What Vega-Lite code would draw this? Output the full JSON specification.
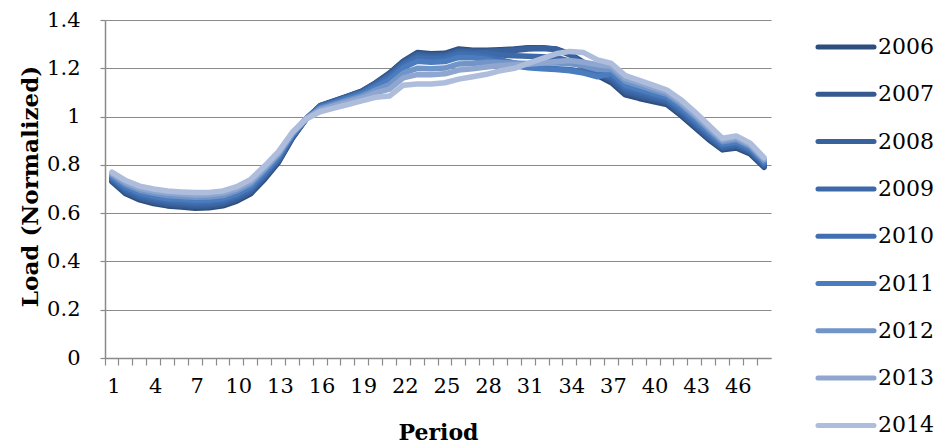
{
"$schema": "https://vega.github.io/schema/vega-lite/v6.json",
"width": 666, "height": 338,
"autosize": "none",
"padding": {"left": 105, "top": 20, "right": 168, "bottom": 86},
"background": "white",
"config": {"font": "DejaVu Serif", "view": {"stroke": null}},
"data": {"values": [
{"p":1,"s":"2006","v":0.730},{"p":2,"s":"2006","v":0.680},{"p":3,"s":"2006","v":0.655},{"p":4,"s":"2006","v":0.640},{"p":5,"s":"2006","v":0.630},{"p":6,"s":"2006","v":0.625},{"p":7,"s":"2006","v":0.620},{"p":8,"s":"2006","v":0.622},{"p":9,"s":"2006","v":0.630},{"p":10,"s":"2006","v":0.650},{"p":11,"s":"2006","v":0.680},{"p":12,"s":"2006","v":0.740},{"p":13,"s":"2006","v":0.810},{"p":14,"s":"2006","v":0.910},{"p":15,"s":"2006","v":0.990},{"p":16,"s":"2006","v":1.045},{"p":17,"s":"2006","v":1.065},{"p":18,"s":"2006","v":1.085},{"p":19,"s":"2006","v":1.105},{"p":20,"s":"2006","v":1.140},{"p":21,"s":"2006","v":1.180},{"p":22,"s":"2006","v":1.230},{"p":23,"s":"2006","v":1.265},{"p":24,"s":"2006","v":1.260},{"p":25,"s":"2006","v":1.262},{"p":26,"s":"2006","v":1.280},{"p":27,"s":"2006","v":1.275},{"p":28,"s":"2006","v":1.275},{"p":29,"s":"2006","v":1.277},{"p":30,"s":"2006","v":1.280},{"p":31,"s":"2006","v":1.285},{"p":32,"s":"2006","v":1.285},{"p":33,"s":"2006","v":1.280},{"p":34,"s":"2006","v":1.260},{"p":35,"s":"2006","v":1.225},{"p":36,"s":"2006","v":1.170},{"p":37,"s":"2006","v":1.140},{"p":38,"s":"2006","v":1.090},{"p":39,"s":"2006","v":1.075},{"p":40,"s":"2006","v":1.062},{"p":41,"s":"2006","v":1.050},{"p":42,"s":"2006","v":1.005},{"p":43,"s":"2006","v":0.955},{"p":44,"s":"2006","v":0.905},{"p":45,"s":"2006","v":0.862},{"p":46,"s":"2006","v":0.870},{"p":47,"s":"2006","v":0.845},{"p":48,"s":"2006","v":0.790},
{"p":1,"s":"2007","v":0.734},{"p":2,"s":"2007","v":0.686},{"p":3,"s":"2007","v":0.661},{"p":4,"s":"2007","v":0.646},{"p":5,"s":"2007","v":0.636},{"p":6,"s":"2007","v":0.631},{"p":7,"s":"2007","v":0.627},{"p":8,"s":"2007","v":0.628},{"p":9,"s":"2007","v":0.636},{"p":10,"s":"2007","v":0.656},{"p":11,"s":"2007","v":0.686},{"p":12,"s":"2007","v":0.746},{"p":13,"s":"2007","v":0.815},{"p":14,"s":"2007","v":0.913},{"p":15,"s":"2007","v":0.991},{"p":16,"s":"2007","v":1.044},{"p":17,"s":"2007","v":1.064},{"p":18,"s":"2007","v":1.084},{"p":19,"s":"2007","v":1.104},{"p":20,"s":"2007","v":1.138},{"p":21,"s":"2007","v":1.177},{"p":22,"s":"2007","v":1.227},{"p":23,"s":"2007","v":1.261},{"p":24,"s":"2007","v":1.256},{"p":25,"s":"2007","v":1.258},{"p":26,"s":"2007","v":1.276},{"p":27,"s":"2007","v":1.272},{"p":28,"s":"2007","v":1.272},{"p":29,"s":"2007","v":1.274},{"p":30,"s":"2007","v":1.278},{"p":31,"s":"2007","v":1.283},{"p":32,"s":"2007","v":1.284},{"p":33,"s":"2007","v":1.279},{"p":34,"s":"2007","v":1.258},{"p":35,"s":"2007","v":1.222},{"p":36,"s":"2007","v":1.177},{"p":37,"s":"2007","v":1.148},{"p":38,"s":"2007","v":1.098},{"p":39,"s":"2007","v":1.083},{"p":40,"s":"2007","v":1.069},{"p":41,"s":"2007","v":1.056},{"p":42,"s":"2007","v":1.012},{"p":43,"s":"2007","v":0.962},{"p":44,"s":"2007","v":0.911},{"p":45,"s":"2007","v":0.867},{"p":46,"s":"2007","v":0.875},{"p":47,"s":"2007","v":0.850},{"p":48,"s":"2007","v":0.794},
{"p":1,"s":"2008","v":0.738},{"p":2,"s":"2008","v":0.691},{"p":3,"s":"2008","v":0.666},{"p":4,"s":"2008","v":0.652},{"p":5,"s":"2008","v":0.642},{"p":6,"s":"2008","v":0.638},{"p":7,"s":"2008","v":0.633},{"p":8,"s":"2008","v":0.635},{"p":9,"s":"2008","v":0.642},{"p":10,"s":"2008","v":0.662},{"p":11,"s":"2008","v":0.692},{"p":12,"s":"2008","v":0.751},{"p":13,"s":"2008","v":0.819},{"p":14,"s":"2008","v":0.915},{"p":15,"s":"2008","v":0.990},{"p":16,"s":"2008","v":1.043},{"p":17,"s":"2008","v":1.063},{"p":18,"s":"2008","v":1.083},{"p":19,"s":"2008","v":1.102},{"p":20,"s":"2008","v":1.136},{"p":21,"s":"2008","v":1.173},{"p":22,"s":"2008","v":1.223},{"p":23,"s":"2008","v":1.256},{"p":24,"s":"2008","v":1.251},{"p":25,"s":"2008","v":1.253},{"p":26,"s":"2008","v":1.271},{"p":27,"s":"2008","v":1.267},{"p":28,"s":"2008","v":1.268},{"p":29,"s":"2008","v":1.271},{"p":30,"s":"2008","v":1.274},{"p":31,"s":"2008","v":1.280},{"p":32,"s":"2008","v":1.282},{"p":33,"s":"2008","v":1.279},{"p":34,"s":"2008","v":1.255},{"p":35,"s":"2008","v":1.218},{"p":36,"s":"2008","v":1.183},{"p":37,"s":"2008","v":1.156},{"p":38,"s":"2008","v":1.106},{"p":39,"s":"2008","v":1.090},{"p":40,"s":"2008","v":1.076},{"p":41,"s":"2008","v":1.062},{"p":42,"s":"2008","v":1.018},{"p":43,"s":"2008","v":0.968},{"p":44,"s":"2008","v":0.917},{"p":45,"s":"2008","v":0.872},{"p":46,"s":"2008","v":0.880},{"p":47,"s":"2008","v":0.854},{"p":48,"s":"2008","v":0.798},
{"p":1,"s":"2009","v":0.742},{"p":2,"s":"2009","v":0.697},{"p":3,"s":"2009","v":0.672},{"p":4,"s":"2009","v":0.658},{"p":5,"s":"2009","v":0.649},{"p":6,"s":"2009","v":0.644},{"p":7,"s":"2009","v":0.640},{"p":8,"s":"2009","v":0.641},{"p":9,"s":"2009","v":0.649},{"p":10,"s":"2009","v":0.668},{"p":11,"s":"2009","v":0.698},{"p":12,"s":"2009","v":0.757},{"p":13,"s":"2009","v":0.824},{"p":14,"s":"2009","v":0.918},{"p":15,"s":"2009","v":0.992},{"p":16,"s":"2009","v":1.042},{"p":17,"s":"2009","v":1.061},{"p":18,"s":"2009","v":1.081},{"p":19,"s":"2009","v":1.100},{"p":20,"s":"2009","v":1.133},{"p":21,"s":"2009","v":1.169},{"p":22,"s":"2009","v":1.218},{"p":23,"s":"2009","v":1.249},{"p":24,"s":"2009","v":1.245},{"p":25,"s":"2009","v":1.247},{"p":26,"s":"2009","v":1.265},{"p":27,"s":"2009","v":1.262},{"p":28,"s":"2009","v":1.263},{"p":29,"s":"2009","v":1.255},{"p":30,"s":"2009","v":1.252},{"p":31,"s":"2009","v":1.250},{"p":32,"s":"2009","v":1.248},{"p":33,"s":"2009","v":1.245},{"p":34,"s":"2009","v":1.230},{"p":35,"s":"2009","v":1.205},{"p":36,"s":"2009","v":1.180},{"p":37,"s":"2009","v":1.164},{"p":38,"s":"2009","v":1.114},{"p":39,"s":"2009","v":1.098},{"p":40,"s":"2009","v":1.082},{"p":41,"s":"2009","v":1.068},{"p":42,"s":"2009","v":1.025},{"p":43,"s":"2009","v":0.975},{"p":44,"s":"2009","v":0.923},{"p":45,"s":"2009","v":0.876},{"p":46,"s":"2009","v":0.885},{"p":47,"s":"2009","v":0.859},{"p":48,"s":"2009","v":0.802},
{"p":1,"s":"2010","v":0.746},{"p":2,"s":"2010","v":0.702},{"p":3,"s":"2010","v":0.678},{"p":4,"s":"2010","v":0.664},{"p":5,"s":"2010","v":0.655},{"p":6,"s":"2010","v":0.650},{"p":7,"s":"2010","v":0.646},{"p":8,"s":"2010","v":0.648},{"p":9,"s":"2010","v":0.655},{"p":10,"s":"2010","v":0.674},{"p":11,"s":"2010","v":0.704},{"p":12,"s":"2010","v":0.762},{"p":13,"s":"2010","v":0.828},{"p":14,"s":"2010","v":0.920},{"p":15,"s":"2010","v":0.990},{"p":16,"s":"2010","v":1.041},{"p":17,"s":"2010","v":1.060},{"p":18,"s":"2010","v":1.079},{"p":19,"s":"2010","v":1.098},{"p":20,"s":"2010","v":1.129},{"p":21,"s":"2010","v":1.163},{"p":22,"s":"2010","v":1.212},{"p":23,"s":"2010","v":1.242},{"p":24,"s":"2010","v":1.238},{"p":25,"s":"2010","v":1.240},{"p":26,"s":"2010","v":1.258},{"p":27,"s":"2010","v":1.255},{"p":28,"s":"2010","v":1.248},{"p":29,"s":"2010","v":1.235},{"p":30,"s":"2010","v":1.222},{"p":31,"s":"2010","v":1.210},{"p":32,"s":"2010","v":1.202},{"p":33,"s":"2010","v":1.198},{"p":34,"s":"2010","v":1.195},{"p":35,"s":"2010","v":1.185},{"p":36,"s":"2010","v":1.170},{"p":37,"s":"2010","v":1.172},{"p":38,"s":"2010","v":1.122},{"p":39,"s":"2010","v":1.105},{"p":40,"s":"2010","v":1.089},{"p":41,"s":"2010","v":1.074},{"p":42,"s":"2010","v":1.031},{"p":43,"s":"2010","v":0.981},{"p":44,"s":"2010","v":0.929},{"p":45,"s":"2010","v":0.881},{"p":46,"s":"2010","v":0.890},{"p":47,"s":"2010","v":0.863},{"p":48,"s":"2010","v":0.806},
{"p":1,"s":"2011","v":0.750},{"p":2,"s":"2011","v":0.708},{"p":3,"s":"2011","v":0.684},{"p":4,"s":"2011","v":0.670},{"p":5,"s":"2011","v":0.661},{"p":6,"s":"2011","v":0.657},{"p":7,"s":"2011","v":0.653},{"p":8,"s":"2011","v":0.654},{"p":9,"s":"2011","v":0.661},{"p":10,"s":"2011","v":0.680},{"p":11,"s":"2011","v":0.710},{"p":12,"s":"2011","v":0.768},{"p":13,"s":"2011","v":0.833},{"p":14,"s":"2011","v":0.923},{"p":15,"s":"2011","v":0.991},{"p":16,"s":"2011","v":1.038},{"p":17,"s":"2011","v":1.057},{"p":18,"s":"2011","v":1.075},{"p":19,"s":"2011","v":1.094},{"p":20,"s":"2011","v":1.123},{"p":21,"s":"2011","v":1.153},{"p":22,"s":"2011","v":1.202},{"p":23,"s":"2011","v":1.229},{"p":24,"s":"2011","v":1.225},{"p":25,"s":"2011","v":1.228},{"p":26,"s":"2011","v":1.245},{"p":27,"s":"2011","v":1.244},{"p":28,"s":"2011","v":1.238},{"p":29,"s":"2011","v":1.222},{"p":30,"s":"2011","v":1.210},{"p":31,"s":"2011","v":1.202},{"p":32,"s":"2011","v":1.198},{"p":33,"s":"2011","v":1.195},{"p":34,"s":"2011","v":1.190},{"p":35,"s":"2011","v":1.180},{"p":36,"s":"2011","v":1.165},{"p":37,"s":"2011","v":1.180},{"p":38,"s":"2011","v":1.130},{"p":39,"s":"2011","v":1.113},{"p":40,"s":"2011","v":1.096},{"p":41,"s":"2011","v":1.080},{"p":42,"s":"2011","v":1.038},{"p":43,"s":"2011","v":0.988},{"p":44,"s":"2011","v":0.935},{"p":45,"s":"2011","v":0.886},{"p":46,"s":"2011","v":0.895},{"p":47,"s":"2011","v":0.868},{"p":48,"s":"2011","v":0.810},
{"p":1,"s":"2012","v":0.758},{"p":2,"s":"2012","v":0.719},{"p":3,"s":"2012","v":0.695},{"p":4,"s":"2012","v":0.682},{"p":5,"s":"2012","v":0.673},{"p":6,"s":"2012","v":0.669},{"p":7,"s":"2012","v":0.666},{"p":8,"s":"2012","v":0.667},{"p":9,"s":"2012","v":0.673},{"p":10,"s":"2012","v":0.692},{"p":11,"s":"2012","v":0.722},{"p":12,"s":"2012","v":0.779},{"p":13,"s":"2012","v":0.842},{"p":14,"s":"2012","v":0.928},{"p":15,"s":"2012","v":0.990},{"p":16,"s":"2012","v":1.033},{"p":17,"s":"2012","v":1.050},{"p":18,"s":"2012","v":1.068},{"p":19,"s":"2012","v":1.085},{"p":20,"s":"2012","v":1.110},{"p":21,"s":"2012","v":1.133},{"p":22,"s":"2012","v":1.180},{"p":23,"s":"2012","v":1.200},{"p":24,"s":"2012","v":1.198},{"p":25,"s":"2012","v":1.201},{"p":26,"s":"2012","v":1.218},{"p":27,"s":"2012","v":1.220},{"p":28,"s":"2012","v":1.225},{"p":29,"s":"2012","v":1.225},{"p":30,"s":"2012","v":1.222},{"p":31,"s":"2012","v":1.220},{"p":32,"s":"2012","v":1.222},{"p":33,"s":"2012","v":1.222},{"p":34,"s":"2012","v":1.220},{"p":35,"s":"2012","v":1.210},{"p":36,"s":"2012","v":1.195},{"p":37,"s":"2012","v":1.196},{"p":38,"s":"2012","v":1.146},{"p":39,"s":"2012","v":1.128},{"p":40,"s":"2012","v":1.110},{"p":41,"s":"2012","v":1.092},{"p":42,"s":"2012","v":1.051},{"p":43,"s":"2012","v":1.001},{"p":44,"s":"2012","v":0.947},{"p":45,"s":"2012","v":0.896},{"p":46,"s":"2012","v":0.905},{"p":47,"s":"2012","v":0.877},{"p":48,"s":"2012","v":0.818},
{"p":1,"s":"2013","v":0.764},{"p":2,"s":"2013","v":0.727},{"p":3,"s":"2013","v":0.703},{"p":4,"s":"2013","v":0.691},{"p":5,"s":"2013","v":0.683},{"p":6,"s":"2013","v":0.679},{"p":7,"s":"2013","v":0.675},{"p":8,"s":"2013","v":0.676},{"p":9,"s":"2013","v":0.683},{"p":10,"s":"2013","v":0.701},{"p":11,"s":"2013","v":0.731},{"p":12,"s":"2013","v":0.787},{"p":13,"s":"2013","v":0.848},{"p":14,"s":"2013","v":0.931},{"p":15,"s":"2013","v":0.992},{"p":16,"s":"2013","v":1.028},{"p":17,"s":"2013","v":1.044},{"p":18,"s":"2013","v":1.061},{"p":19,"s":"2013","v":1.077},{"p":20,"s":"2013","v":1.098},{"p":21,"s":"2013","v":1.114},{"p":22,"s":"2013","v":1.160},{"p":23,"s":"2013","v":1.174},{"p":24,"s":"2013","v":1.173},{"p":25,"s":"2013","v":1.177},{"p":26,"s":"2013","v":1.193},{"p":27,"s":"2013","v":1.198},{"p":28,"s":"2013","v":1.205},{"p":29,"s":"2013","v":1.212},{"p":30,"s":"2013","v":1.215},{"p":31,"s":"2013","v":1.217},{"p":32,"s":"2013","v":1.222},{"p":33,"s":"2013","v":1.228},{"p":34,"s":"2013","v":1.232},{"p":35,"s":"2013","v":1.225},{"p":36,"s":"2013","v":1.215},{"p":37,"s":"2013","v":1.208},{"p":38,"s":"2013","v":1.158},{"p":39,"s":"2013","v":1.139},{"p":40,"s":"2013","v":1.120},{"p":41,"s":"2013","v":1.101},{"p":42,"s":"2013","v":1.060},{"p":43,"s":"2013","v":1.010},{"p":44,"s":"2013","v":0.956},{"p":45,"s":"2013","v":0.903},{"p":46,"s":"2013","v":0.913},{"p":47,"s":"2013","v":0.883},{"p":48,"s":"2013","v":0.824},
{"p":1,"s":"2014","v":0.770},{"p":2,"s":"2014","v":0.735},{"p":3,"s":"2014","v":0.712},{"p":4,"s":"2014","v":0.700},{"p":5,"s":"2014","v":0.692},{"p":6,"s":"2014","v":0.688},{"p":7,"s":"2014","v":0.685},{"p":8,"s":"2014","v":0.686},{"p":9,"s":"2014","v":0.692},{"p":10,"s":"2014","v":0.710},{"p":11,"s":"2014","v":0.740},{"p":12,"s":"2014","v":0.795},{"p":13,"s":"2014","v":0.855},{"p":14,"s":"2014","v":0.935},{"p":15,"s":"2014","v":0.990},{"p":16,"s":"2014","v":1.020},{"p":17,"s":"2014","v":1.035},{"p":18,"s":"2014","v":1.050},{"p":19,"s":"2014","v":1.065},{"p":20,"s":"2014","v":1.080},{"p":21,"s":"2014","v":1.085},{"p":22,"s":"2014","v":1.130},{"p":23,"s":"2014","v":1.135},{"p":24,"s":"2014","v":1.135},{"p":25,"s":"2014","v":1.140},{"p":26,"s":"2014","v":1.155},{"p":27,"s":"2014","v":1.165},{"p":28,"s":"2014","v":1.175},{"p":29,"s":"2014","v":1.190},{"p":30,"s":"2014","v":1.200},{"p":31,"s":"2014","v":1.220},{"p":32,"s":"2014","v":1.240},{"p":33,"s":"2014","v":1.260},{"p":34,"s":"2014","v":1.270},{"p":35,"s":"2014","v":1.265},{"p":36,"s":"2014","v":1.235},{"p":37,"s":"2014","v":1.220},{"p":38,"s":"2014","v":1.170},{"p":39,"s":"2014","v":1.150},{"p":40,"s":"2014","v":1.130},{"p":41,"s":"2014","v":1.110},{"p":42,"s":"2014","v":1.070},{"p":43,"s":"2014","v":1.020},{"p":44,"s":"2014","v":0.965},{"p":45,"s":"2014","v":0.910},{"p":46,"s":"2014","v":0.920},{"p":47,"s":"2014","v":0.890},{"p":48,"s":"2014","v":0.830}
]},
"mark": {"type": "line", "strokeWidth": 5.5, "strokeCap": "round", "strokeJoin": "round"},
"encoding": {
  "x": {"field": "p", "type": "ordinal", "bandPosition": 0.5,
    "scale": {"type": "band", "paddingInner": 0, "paddingOuter": 0},
    "axis": {"title": "Period", "bandPosition": 0, "labelOffset": 2, "labelAngle": 0,
      "labelExpr": "(datum.value - 1) % 3 == 0 ? datum.label : ''", "labelOverlap": false,
      "labelFontSize": 21, "labelColor": "#000000", "labelPadding": 10, "labelBaseline": "top",
      "tickSize": 7, "tickColor": "#8a8a8a", "tickWidth": 1.2, "domainColor": "#8a8a8a", "domainWidth": 1.5,
      "grid": false, "titleFontSize": 22, "titleFontWeight": "bold", "titleColor": "#000000",
      "titleX": 333, "titleY": 74, "titleBaseline": "middle", "titleAlign": "center"}},
  "y": {"field": "v", "type": "quantitative",
    "scale": {"domain": [0, 1.4], "nice": false},
    "axis": {"title": "Load (Normalized)", "values": [0, 0.2, 0.4, 0.6, 0.8, 1, 1.2, 1.4], "format": ".1~f",
      "labelFontSize": 21, "labelColor": "#000000", "labelPadding": 20,
      "tickSize": 5, "tickColor": "#8a8a8a", "tickWidth": 1.2, "domainColor": "#8a8a8a", "domainWidth": 1.5,
      "grid": true, "gridColor": "#8a8a8a", "gridWidth": 1.2,
      "titleFontSize": 23, "titleFontWeight": "bold", "titleColor": "#000000",
      "titleX": -75, "titleY": 166, "titleBaseline": "middle", "titleAngle": -90, "titleAlign": "center"}},
  "color": {"field": "s", "type": "nominal",
    "scale": {"domain": ["2006","2007","2008","2009","2010","2011","2012","2013","2014"],
      "range": ["#2E4E7E","#345A8F","#39629D","#3D69A8","#416FB2","#4A7CBE","#7195C8","#8FA7D0","#ADBDDB"]},
    "legend": {"title": null, "orient": "none", "legendX": 729, "legendY": 15, "padding": 0,
      "symbolType": "M-3,0H3", "symbolSize": 349, "symbolStrokeWidth": 5,
      "labelFontSize": 22, "labelColor": "#000000", "labelOffset": 20, "rowPadding": 24.3,
      "encode": {"symbols": {"update": {"strokeCap": {"value": "round"}, "fill": {"value": "transparent"}}}}}}
}
}
